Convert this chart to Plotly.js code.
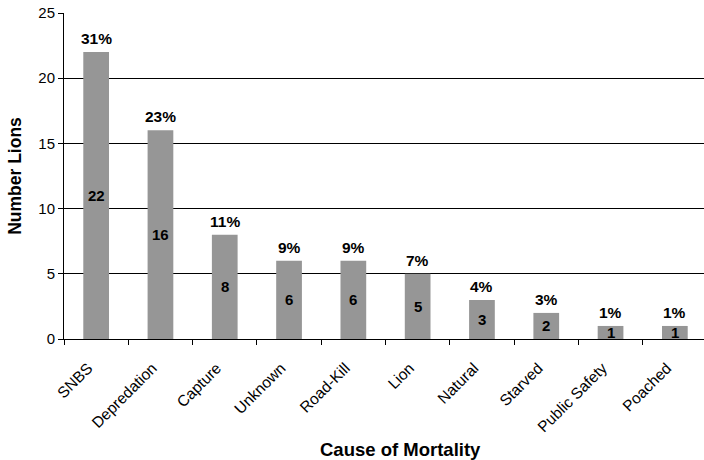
<!DOCTYPE html>
<html><head><meta charset="utf-8">
<script src="https://cdn.plot.ly/plotly-3.0.1.min.js"></script>
<style>html,body{margin:0;padding:0;overflow:hidden;background:#fff}</style>
</head><body><div id="chart"></div>
<script>
const causes = ["SNBS","Depredation","Capture","Unknown","Road-Kill","Lion","Natural","Starved","Public Safety","Poached"];
const lions = [22,16,8,6,6,5,3,2,1,1];
const percents = ["31%","23%","11%","9%","9%","7%","4%","3%","1%","1%"];

const font = "Liberation Sans, Arial, sans-serif";
const annotations = [];
causes.forEach((c,i)=>{
  annotations.push({x:c, y:lions[i]/2, text:"<b>"+lions[i]+"</b>", showarrow:false,
    font:{family:font,size:15,color:"#000"}, xanchor:"center", yanchor:"middle"});
  annotations.push({x:c, y:lions[i], text:"<b>"+percents[i]+"</b>", showarrow:false,
    font:{family:font,size:15.5,color:"#000"}, xanchor:"center", yanchor:"bottom", yshift:3});
});
annotations.push({xref:"paper", yref:"paper", x:0.524, y:-0.34, xanchor:"center", yanchor:"middle",
  text:"<b>Cause of Mortality</b>", showarrow:false, font:{family:font,size:18.5,color:"#000"}});

Plotly.newPlot("chart",[{
  type:"bar", x:causes, y:lions, marker:{color:"#969696", line:{width:0}},
  width:0.4, hoverinfo:"none"
}],{
  width:712, height:460,
  margin:{l:64, r:5, t:13, b:121},
  paper_bgcolor:"#fff", plot_bgcolor:"#fff",
  font:{family:font, color:"#000"},
  showlegend:false,
  xaxis:{type:"category", showline:true, linecolor:"#000", linewidth:1,
    ticks:"outside", tickson:"boundaries", ticklen:5, tickcolor:"#000",
    tickangle:-45, tickfont:{family:font,size:15.5,color:"#000"},
    ticklabelstandoff:13, ticklabelshift:-8,
    automargin:false},
  yaxis:{range:[0,25], dtick:5, showline:true, linecolor:"#000", linewidth:1,
    ticks:"outside", ticklen:5, tickcolor:"#000",
    showgrid:true, gridcolor:"#000", gridwidth:1, zeroline:false,
    tickfont:{family:font,size:15,color:"#000"},
    title:{text:"<b>Number Lions</b>", font:{family:font,size:17.5,color:"#000"}, standoff:12},
    automargin:false},
  annotations:annotations
},{displayModeBar:false, staticPlot:true});
</script></body></html>
